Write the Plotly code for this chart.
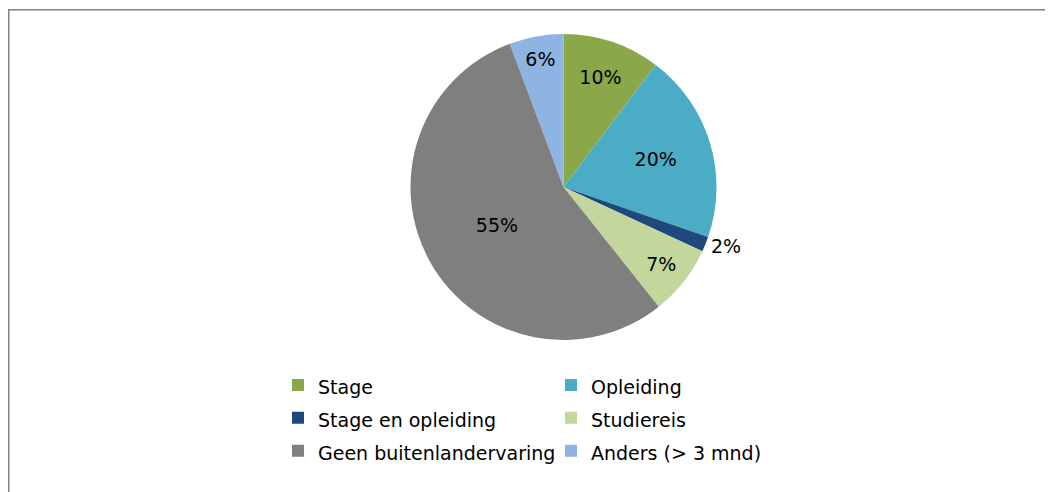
import plotly.graph_objects as go

# Data
labels = ["Stage", "Opleiding", "Stage en opleiding", "Studiereis",
          "Geen buitenlandervaring", "Anders (> 3 mnd)"]
values = [10.3, 20.0, 1.6, 7.4, 55.0, 5.7]
colors = ["#8AA84A", "#4BACC6", "#1F497D", "#C3D69B", "#7F7F7F", "#8EB4E3"]
text_pos = ["inside", "inside", "outside", "inside", "inside", "inside"]

W, H = 1053, 492
OFF = 8  # the page puts the figure 8px in from the window corner
L, R, T, B = 262, 191, 26, 160
pw, ph = W - L - R, H - T - B


def px_x(x):
    # window pixel -> paper coordinate
    return (x - OFF - L) / pw


def px_y(y):
    return (H - B - (y - OFF)) / ph


# legend labels drawn at 19px while the larger legend font keeps rows apart
legend_labels = ["<span style='font-size:19px'>%s</span>" % s for s in labels]

fig = go.Figure(go.Pie(
    labels=legend_labels,
    values=values,
    sort=False,
    direction="clockwise",
    rotation=0,
    marker=dict(colors=colors, line=dict(width=0)),
    texttemplate="%{percent:.0%}",
    textposition=text_pos,
    insidetextorientation="horizontal",
    textfont=dict(family="DejaVu Sans", size=19, color="black"),
    hoverinfo="label+percent",
    domain=dict(x=[0, 2 * px_x(563.5)], y=[0, 1]),
))

fig.update_layout(
    width=W, height=H,
    margin=dict(l=L, r=R, t=T, b=B),
    paper_bgcolor="white",
    plot_bgcolor="white",
    font=dict(family="DejaVu Sans", color="black"),
    legend=dict(
        orientation="h",
        x=px_x(278), xanchor="left",
        y=px_y(363.5), yanchor="top",
        entrywidth=228,
        font=dict(family="DejaVu Sans", size=23, color="black"),
        traceorder="normal",
    ),
    shapes=[
        dict(type="line", xref="paper", yref="paper",
             x0=px_x(7), x1=px_x(1061), y0=px_y(9.7), y1=px_y(9.7),
             line=dict(color="#808080", width=1.5)),
        dict(type="line", xref="paper", yref="paper",
             x0=px_x(8.75), x1=px_x(8.75), y0=px_y(9), y1=px_y(500),
             line=dict(color="#808080", width=1.5)),
    ],
)

fig.write_html("out.html")
